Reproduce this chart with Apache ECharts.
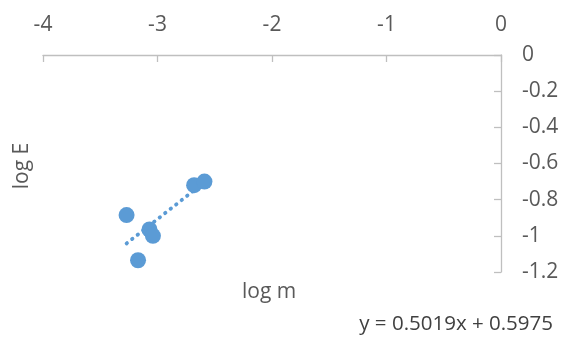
<!DOCTYPE html>
<html>
<head>
<meta charset="utf-8">
<script src="https://cdn.jsdelivr.net/npm/echarts@6/dist/echarts.min.js"></script>
<style>html,body{margin:0;padding:0;background:#fff}#c{width:563px;height:340px}</style>
</head>
<body>
<div id="c"></div>
<script>
const logM = [-3.27, -3.17, -3.07, -3.04, -2.68, -2.59];
const logE = [-0.885, -1.135, -0.965, -1.0, -0.72, -0.70];
const trendX = [-3.27, -2.59];
const trendY = [-1.042, -0.703];
const xTicks = [-4, -3, -2, -1, 0];
const yTicks = [0, -0.2, -0.4, -0.6, -0.8, -1, -1.2];
const equation = 'y = 0.5019x + 0.5975';
const xTitle = 'log m';
const yTitle = 'log E';

const font = '"Open Sans", sans-serif';
const chart = echarts.init(document.getElementById('c'));
chart.setOption({
  animation: false,
  grid: { left: 43, right: 62, top: 55, bottom: 68 },
  xAxis: {
    type: 'value', position: 'top', min: xTicks[0], max: xTicks[xTicks.length-1], interval: 1,
    axisLine: { show: true, onZero: false, lineStyle: { color: '#BFBFBF', width: 1.3 } },
    axisTick: { show: true, inside: true, length: 7, lineStyle: { color: '#BFBFBF', width: 1.3 } },
    splitLine: { show: false },
    axisLabel: { color: '#595959', fontSize: 21, fontFamily: font, margin: 19 }
  },
  yAxis: {
    type: 'value', position: 'right', min: yTicks[yTicks.length-1], max: yTicks[0], interval: 0.2,
    axisLine: { show: true, onZero: false, lineStyle: { color: '#BFBFBF', width: 1.3 } },
    axisTick: { show: true, inside: true, length: 7, lineStyle: { color: '#BFBFBF', width: 1.3 } },
    splitLine: { show: false },
    axisLabel: { color: '#595959', fontSize: 21, fontFamily: font, margin: 21,
      formatter: v => String(Math.round(v*10)/10) }
  },
  graphic: [
    { type: 'text', left: 242, top: 282, style: { text: xTitle, fill: '#595959', font: '21px ' + font } },
    { type: 'text', rotation: Math.PI/2, x: 12, y: 166, style: { text: yTitle, fill: '#595959', font: '21px ' + font, align: 'center', verticalAlign: 'top' } },
    { type: 'text', right: 10, top: 314, style: { text: equation, fill: '#404040', font: '20.5px ' + font } }
  ],
  series: [
    {
      type: 'line', data: trendX.map((x,i)=>[x, trendY[i]]), symbol: 'none',
      lineStyle: { color: '#5B9BD5', width: 3.8, type: [0.5, 6.5], cap: 'round' }, z: 1
    },
    {
      type: 'scatter', data: logM.map((x,i)=>[x, logE[i]]), symbolSize: 16,
      itemStyle: { color: '#5B9BD5', opacity: 1 }, z: 2
    }
  ]
});
</script>
</body>
</html>
